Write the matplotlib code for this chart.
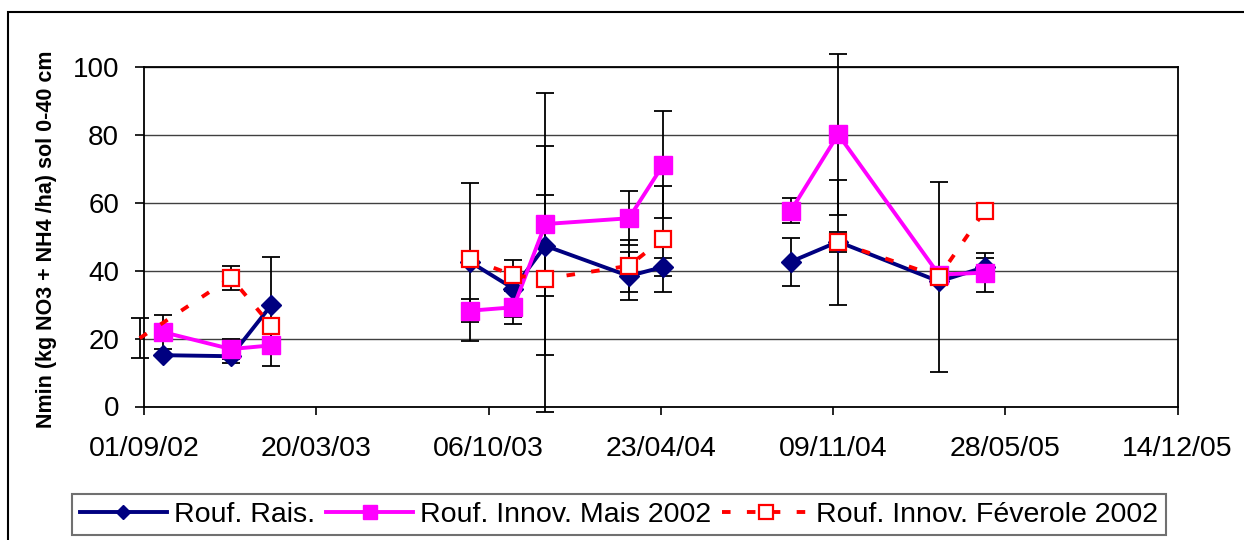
import matplotlib
matplotlib.use('Agg')
import matplotlib.pyplot as plt
import matplotlib.dates as mdates
from matplotlib.lines import Line2D
from matplotlib.patches import Rectangle
import numpy as np

nan = np.nan
# ---- data ----
dates = ['2002-08-27', '2002-09-23', '2002-12-11', '2003-01-27',
         '2003-09-15', '2003-11-04', '2003-12-11', '2004-03-17', '2004-04-26',
         '2004-09-21', '2004-11-15', '2005-03-12', '2005-05-04']
campaign = [1, 1, 1, 1, 2, 2, 2, 2, 2, 3, 3, 3, 3]

rais = [nan, 15.1, 14.8, 29.9, 42.5, 34.7, 47.3, 38.4, 41.1, 42.6, 48.5, 36.8, 41.0]
rais_err = [nan, nan, 2.1, 14.0, 23.3, 8.3, 14.8, 7.0, 2.7, 7.0, 3.0, nan, 2.8]
mais = [nan, 21.9, 16.9, 18.0, 28.2, 29.2, 53.7, 55.4, 71.2, 57.6, 80.1, 38.8, 39.4]
mais_err = [nan, 5.0, 2.9, 6.0, 3.4, 4.9, 38.5, 8.0, 15.7, 3.7, 23.6, nan, 5.7]
fev = [20.1, nan, 37.9, 23.7, 43.4, 38.6, 37.6, 41.4, 49.4, nan, 48.3, 38.2, 57.6]
fev_err = [5.8, nan, 3.5, nan, nan, nan, 39.1, 7.6, 15.6, nan, 18.5, 28.0, nan]

labels = ['Rouf. Rais.', 'Rouf. Innov. Mais 2002', 'Rouf. Innov. Féverole 2002']
tick_dates = ['2002-09-01', '2003-03-20', '2003-10-06', '2004-04-23',
              '2004-11-09', '2005-05-28', '2005-12-14']
yticks = [0, 20, 40, 60, 80, 100]
ylabel = 'Nmin (kg NO3 + NH4 /ha) sol 0-40 cm'

plt.rcParams['font.family'] = ['Liberation Sans', 'DejaVu Sans']

W, H = 1244, 540
fig = plt.figure(figsize=(W / 100, H / 100), dpi=100)
ax = fig.add_axes([144 / W, (H - 406.5) / H, 1033.5 / W, 339.8 / H])

x = mdates.datestr2num(dates)
camp = np.array(campaign)
xt = mdates.datestr2num(tick_dates)
xmin, xmax = xt[0], xt[-1]

styles = [
    dict(color='#000080', marker='D', ms=10, mfc='#000080', mec='#000080', mew=1, ls='-', lw=2.8, lms=7),
    dict(color='#FF00FF', marker='s', ms=12.5, mfc='#FF00FF', mec='#FF00FF', mew=1, ls='-', lw=2.8, lms=10),
    dict(color='#FF0000', marker='s', ms=12, mfc='white', mec='#FF0000', mew=1.6, ls='--', lw=2.8, lms=9.5),
]
series = [(rais, rais_err), (mais, mais_err), (fev, fev_err)]

for i, ((vals, err), st) in enumerate(zip(series, styles)):
    vals = np.array(vals, float)
    err = np.array(err, float)
    m = ~np.isnan(err) & ~np.isnan(vals)
    cont = ax.errorbar(x[m], vals[m], yerr=err[m], fmt='none', ecolor='black',
                       elinewidth=1.3, capsize=6.8, capthick=1.3, zorder=2)
    for a in list(cont.lines[1]) + list(cont.lines[2]):
        a.set_clip_on(False)
    for c in sorted(set(campaign)):
        idx = (camp == c) & ~np.isnan(vals)
        xs, ys = x[idx], vals[idx]
        mk = list(xs >= xmin)
        kw = {}
        if st['ls'] == '--':
            kw['dashes'] = (2.2, 4.2)
        ax.plot(xs, ys, color=st['color'], lw=st['lw'], ls=st['ls'],
                marker=st['marker'], ms=st['ms'], mfc=st['mfc'], mec=st['mec'],
                mew=st['mew'], markevery=mk, clip_on=False, zorder=3 + i, **kw)

ax.set_xlim(xmin, xmax)
ax.set_ylim(0, 100)
ax.set_xticks(xt)
ax.xaxis.set_major_formatter(mdates.DateFormatter('%d/%m/%y'))
ax.set_yticks(yticks)
ax.yaxis.grid(True, color='#404040', lw=1)
ax.set_axisbelow(True)
for s in ax.spines.values():
    s.set_color('black')
    s.set_linewidth(1.3)
ax.tick_params(axis='y', direction='out', length=6.5, width=1.2, pad=11.5, labelsize=20)
ax.tick_params(axis='x', direction='out', length=5.4, width=1.2, pad=16, labelsize=20.5)
ax.set_ylabel(ylabel, fontsize=15.5, fontweight='bold')
ax.yaxis.set_label_coords(-0.084, 0.493)

handles = []
for st, lab in zip(styles, labels):
    kw = {}
    if st['ls'] == '--':
        kw['dashes'] = (2.2, 4.2)
    handles.append(Line2D([], [], color=st['color'], lw=st['lw'], ls=st['ls'],
                          marker=st['marker'], ms=st['lms'], mfc=st['mfc'],
                          mec=st['mec'], mew=st['mew'], label=lab, **kw))
leg = fig.legend(handles=handles, loc='center', bbox_to_anchor=(619 / W, (H - 514.5) / H),
                 ncol=3, fontsize=20.5, frameon=True, fancybox=False, shadow=False,
                 framealpha=1, edgecolor='#707070', handlelength=3.05,
                 handletextpad=0.245, columnspacing=0.4, borderpad=0.28,
                 borderaxespad=0)
leg.get_frame().set_linewidth(1.5)

fig.patches.append(Rectangle((8 / W, -0.05), 1.2, 1 - 12 / H + 0.05,
                             transform=fig.transFigure, fill=False,
                             lw=1.5, ec='black', zorder=0))

fig.savefig('out.png', dpi=100)
